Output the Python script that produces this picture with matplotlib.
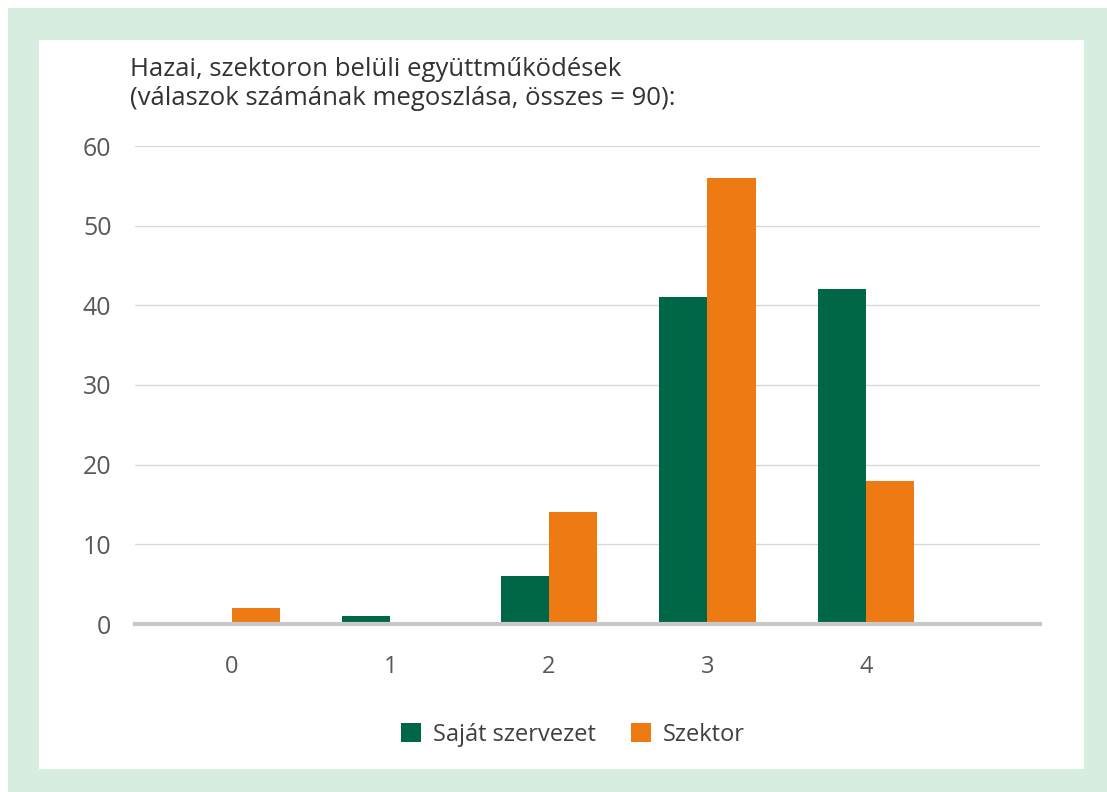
import matplotlib.pyplot as plt
import numpy as np

# adatok
kategoriak = ["0", "1", "2", "3", "4"]
sajat = [0, 1, 6, 41, 42]
szektor = [2, 0, 14, 56, 18]

plt.rcParams['font.family'] = ['Open Sans', 'DejaVu Sans']

fig = plt.figure(figsize=(11.07, 7.92), dpi=100)
fig.patch.set_facecolor('white')

# zöld keret és fehér panel
W, H = 1107, 792
bg = fig.add_axes([8 / W, 0, 1 - 8 / W, 1 - 8 / H])
bg.set_facecolor('#d7ede0')
bg.set_xticks([])
bg.set_yticks([])
for s in bg.spines.values():
    s.set_visible(False)
panel = fig.add_axes([39 / W, 1 - 769 / H, (1084 - 39) / W, (769 - 40) / H])
panel.set_facecolor('white')
panel.set_xticks([])
panel.set_yticks([])
for s in panel.spines.values():
    s.set_visible(False)

ax = fig.add_axes([135 / W, 1 - 624 / H, (1040 - 135) / W, (624 - 146) / H])
ax.set_facecolor('none')

x = np.arange(len(kategoriak))
w = 0.303
zold = '#006648'
narancs = '#ee7a13'
ax.bar(x - w / 2, sajat, w, color=zold, label='Saját szervezet', zorder=3)
ax.bar(x + w / 2, szektor, w, color=narancs, label='Szektor', zorder=3)

ax.set_xlim(-0.612, 5.098)
ax.set_ylim(0, 60)
ax.set_yticks(range(0, 61, 10))
ax.set_xticks(x)
ax.set_xticklabels(kategoriak)
ax.grid(axis='y', color='#d9d9d9', linewidth=1, zorder=0)
for s in ['top', 'right', 'left']:
    ax.spines[s].set_visible(False)
ax.spines['bottom'].set_color('#c9c9c9')
ax.spines['bottom'].set_linewidth(3)
ax.spines['bottom'].set_zorder(4)
ax.tick_params(axis='y', length=0, labelsize=18, colors='#595959', pad=17)
ax.tick_params(axis='x', length=0, labelsize=17, colors='#595959', pad=22)

fig.text(130 / W, 1 - 84 / H,
         "Hazai, szektoron belüli együttműködések\n(válaszok számának megoszlása, összes = 90):",
         fontsize=18.5, color='#333333', va='center', linespacing=1.22)

fig.legend(loc='center', bbox_to_anchor=(573 / W, 1 - 735 / H), ncol=2,
           frameon=False, fontsize=17, handlelength=0.85, handleheight=0.85,
           columnspacing=1.5, handletextpad=0.5, labelcolor='#404040')

plt.savefig('out.png', dpi=100, facecolor=fig.get_facecolor())
